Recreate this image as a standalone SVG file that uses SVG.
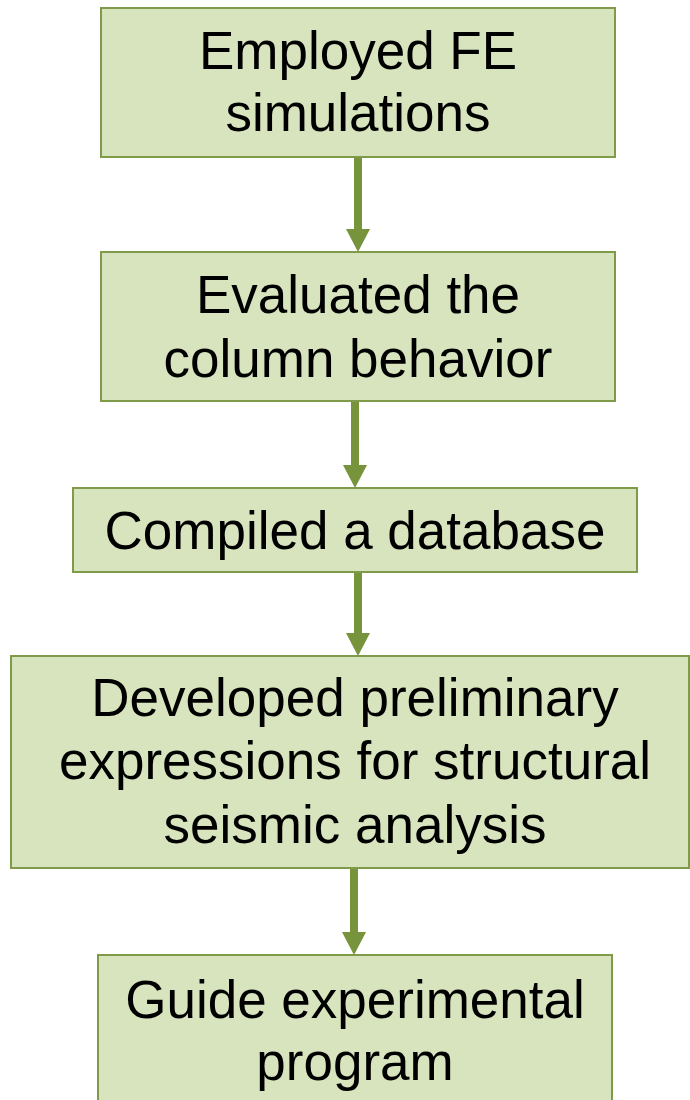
<svg xmlns="http://www.w3.org/2000/svg" width="690" height="1100" viewBox="0 0 690 1100">
<defs>
<style>
.box{fill:#D7E4BD;stroke:#7F9A48;stroke-width:2}
.t{font-family:"Liberation Sans",Arial,sans-serif;font-size:53px;fill:#000;text-anchor:middle}
.shaft{stroke:#77933C;stroke-width:8;fill:none}
.head{fill:#77933C}
</style>
</defs>
<rect width="690" height="1100" fill="#fff"/>
<g id="connectors">
<line class="shaft" x1="358" y1="157" x2="358" y2="232"/>
<polygon class="head" points="346,229 370,229 358,252"/>
<line class="shaft" x1="355" y1="401" x2="355" y2="468"/>
<polygon class="head" points="343,465 367,465 355,488"/>
<line class="shaft" x1="358" y1="572" x2="358" y2="636"/>
<polygon class="head" points="346,633 370,633 358,656"/>
<line class="shaft" x1="354" y1="868" x2="354" y2="935"/>
<polygon class="head" points="342,932 366,932 354,955"/>
</g>
<g id="n1">
<rect class="box" x="101" y="8" width="514" height="149"/>
<text class="t" x="358" y="69">Employed FE</text>
<text class="t" x="358" y="131">simulations</text>
</g>
<g id="n2">
<rect class="box" x="101" y="252" width="514" height="149"/>
<text class="t" x="358" y="313">Evaluated the</text>
<text class="t" x="358" y="377">column behavior</text>
</g>
<g id="n3">
<rect class="box" x="73" y="488" width="564" height="84"/>
<text class="t" x="355" y="549">Compiled a database</text>
</g>
<g id="n4">
<rect class="box" x="11" y="656" width="678" height="212"/>
<text class="t" x="355" y="716">Developed preliminary</text>
<text class="t" x="355" y="779">expressions for structural</text>
<text class="t" x="355" y="843">seismic analysis</text>
</g>
<g id="n5">
<rect class="box" x="98" y="955" width="514" height="160"/>
<text class="t" x="355" y="1018">Guide experimental</text>
<text class="t" x="355" y="1080">program</text>
</g>
</svg>
